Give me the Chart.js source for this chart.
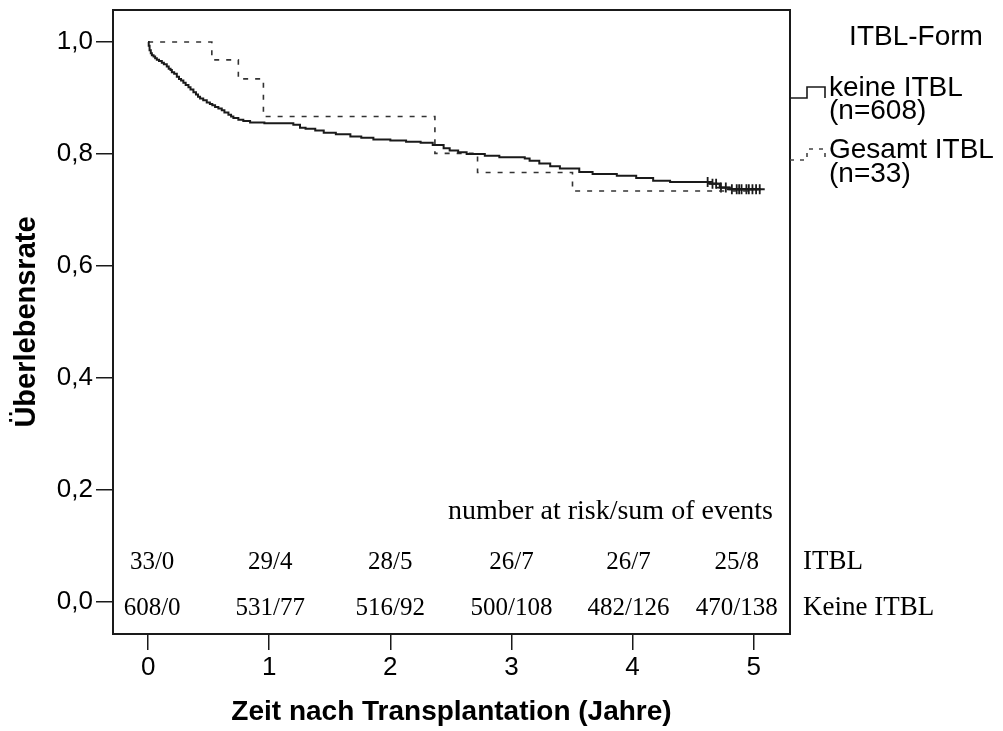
<!DOCTYPE html>
<html>
<head>
<meta charset="utf-8">
<script src="https://cdn.jsdelivr.net/npm/chart.js@4.4.1/dist/chart.umd.min.js"></script>
<style>
  html, body { margin: 0; padding: 0; background: #fff; }
  #wrap { width: 1003px; height: 731px; }
</style>
</head>
<body>
<div id="wrap"><canvas id="km" width="1003" height="731"></canvas></div>
<script>
// Axis ticks
const timeTicks = [0, 1, 2, 3, 4, 5];
const survivalTicks = [0, 0.2, 0.4, 0.6, 0.8, 1.0];

// Kaplan-Meier curve without ITBL (n=608): event times (years) and survival after each event
const keineTimes = [0, 0.005, 0.012, 0.022, 0.031, 0.045, 0.058, 0.072, 0.090, 0.113, 0.130, 0.154, 0.170, 0.185,
  0.196, 0.215, 0.237, 0.255, 0.272, 0.291, 0.310, 0.333, 0.350, 0.374, 0.395, 0.412, 0.429, 0.455, 0.484, 0.510,
  0.530, 0.553, 0.580, 0.608, 0.630, 0.663, 0.685, 0.704, 0.745, 0.786, 0.842, 0.960, 1.199, 1.254, 1.30, 1.38,
  1.45, 1.55, 1.67, 1.76, 1.86, 2.00, 2.13, 2.25, 2.35, 2.44, 2.49, 2.56, 2.63, 2.78, 2.90, 3.11, 3.15, 3.23,
  3.32, 3.40, 3.56, 3.67, 3.87, 4.03, 4.17, 4.31, 4.64, 4.72, 4.80, 5.05];
const keineSurvival = [1.000, 0.993, 0.985, 0.980, 0.976, 0.974, 0.971, 0.968, 0.966, 0.963, 0.960, 0.956, 0.952, 0.950,
  0.946, 0.943, 0.938, 0.934, 0.931, 0.927, 0.923, 0.919, 0.915, 0.910, 0.906, 0.902, 0.899, 0.896, 0.892, 0.889,
  0.887, 0.884, 0.881, 0.878, 0.874, 0.870, 0.867, 0.864, 0.861, 0.859, 0.856, 0.855, 0.852, 0.847, 0.845, 0.842,
  0.838, 0.835, 0.831, 0.829, 0.826, 0.824, 0.822, 0.820, 0.816, 0.810, 0.806, 0.803, 0.800, 0.797, 0.794, 0.792, 0.788, 0.783,
  0.778, 0.774, 0.768, 0.764, 0.761, 0.757, 0.752, 0.750, 0.747, 0.740, 0.737, 0.737];

// Censored observations of the group without ITBL (years)
const keineCensored = [4.62, 4.66, 4.69, 4.73, 4.77, 4.82, 4.86, 4.88, 4.90, 4.94, 4.96, 4.99, 5.02, 5.05];

// Kaplan-Meier curve with ITBL (n=33)
const itblTimes = [0, 0.526, 0.745, 0.952, 2.368, 2.72, 3.504, 5.0];
const itblSurvival = [1.000, 0.968, 0.934, 0.867, 0.801, 0.767, 0.734, 0.734];

// Number at risk / sum of events
const riskTimes = [0, 1, 2, 3, 4, 5];
const riskItbl = ['33/0', '29/4', '28/5', '26/7', '26/7', '25/8'];
const riskKeine = ['608/0', '531/77', '516/92', '500/108', '482/126', '470/138'];
const riskHeader = 'number at risk/sum of events';
const riskRowLabels = ['ITBL', 'Keine ITBL'];

// Legend texts
const legendTitle = 'ITBL-Form';
const legendKeine = ['keine ITBL', '(n=608)'];
const legendItbl = ['Gesamt ITBL', '(n=33)'];

const toPoints = (xs, ys) => xs.map((t, i) => ({ x: t, y: ys[i] }));
const survivalAt = (xs, ys, t) => {
  let s = ys[0];
  for (let i = 0; i < xs.length; i++) { if (xs[i] <= t) s = ys[i]; }
  return s;
};

const SANS = '"Liberation Sans", Arial, Helvetica, sans-serif';
const SERIF = '"Liberation Serif", "Times New Roman", Times, serif';
const INK = '#1a1a1a';

const overlay = {
  id: 'overlay',
  afterDraw(chart) {
    const { ctx, chartArea: a, scales: { x } } = chart;
    ctx.save();

    // plot frame
    ctx.strokeStyle = INK;
    ctx.lineWidth = 2;
    ctx.strokeRect(a.left, a.top, a.right - a.left, a.bottom - a.top);

    // risk table
    ctx.fillStyle = '#000';
    ctx.textBaseline = 'middle';
    ctx.font = '28px ' + SERIF;
    ctx.textAlign = 'right';
    ctx.fillText(riskHeader, a.right - 17, 512);
    ctx.font = '25px ' + SERIF;
    ctx.textAlign = 'center';
    const nudge = [4, 1, 0, 0, -4, -17];
    riskTimes.forEach((t, i) => {
      const px = x.getPixelForValue(t) + nudge[i];
      ctx.fillText(riskItbl[i], px, 562);
      ctx.fillText(riskKeine[i], px, 608);
    });
    ctx.font = '27px ' + SERIF;
    ctx.textAlign = 'left';
    ctx.fillText(riskRowLabels[0], a.right + 13, 562);
    ctx.fillText(riskRowLabels[1], a.right + 13, 608);

    // legend
    ctx.font = '28px ' + SANS;
    ctx.textAlign = 'center';
    ctx.fillText(legendTitle, 916, 37);
    ctx.textAlign = 'left';
    ctx.fillText(legendKeine[0], 829, 88);
    ctx.fillText(legendKeine[1], 829, 111);
    ctx.fillText(legendItbl[0], 829, 150);
    ctx.fillText(legendItbl[1], 829, 174);

    // legend samples: small step shapes
    ctx.lineWidth = 1.6;
    ctx.strokeStyle = INK;
    ctx.beginPath();
    ctx.moveTo(a.right, 98); ctx.lineTo(807, 98); ctx.lineTo(807, 87);
    ctx.lineTo(825, 87); ctx.lineTo(825, 98);
    ctx.stroke();
    ctx.strokeStyle = '#444';
    ctx.setLineDash([4, 6]);
    ctx.beginPath();
    ctx.moveTo(a.right, 160); ctx.lineTo(807, 160); ctx.lineTo(807, 149);
    ctx.lineTo(825, 149); ctx.lineTo(825, 160);
    ctx.stroke();
    ctx.restore();
  }
};

new Chart(document.getElementById('km'), {
  type: 'line',
  data: {
    datasets: [
      {
        label: 'keine ITBL (n=608)',
        data: toPoints(keineTimes, keineSurvival),
        stepped: 'before',
        borderColor: INK,
        borderWidth: 2,
        pointRadius: 0,
        fill: false
      },
      {
        label: 'Gesamt ITBL (n=33)',
        data: toPoints(itblTimes, itblSurvival),
        stepped: 'before',
        borderColor: '#333',
        borderWidth: 1.6,
        borderDash: [5, 7],
        pointRadius: 0,
        fill: false
      },
      {
        label: 'zensiert',
        data: keineCensored.map(t => ({ x: t, y: survivalAt(keineTimes, keineSurvival, t) })),
        showLine: false,
        pointStyle: 'cross',
        pointRadius: 5,
        pointBorderWidth: 1.8,
        pointBorderColor: INK,
        pointBackgroundColor: INK
      }
    ]
  },
  options: {
    responsive: false,
    animation: false,
    devicePixelRatio: 1,
    layout: { padding: { left: 0, top: 10, right: 213, bottom: 0 } },
    plugins: { legend: { display: false }, tooltip: { enabled: false } },
    scales: {
      x: {
        type: 'linear',
        min: -0.29,
        max: 5.30,
        afterBuildTicks: s => { s.ticks = timeTicks.map(v => ({ value: v })); },
        afterFit: s => { s.height = 97; s.paddingLeft = 0; s.paddingRight = 0; },
        ticks: { color: '#000', font: { family: SANS, size: 26 }, padding: 2, maxRotation: 0,
                 callback: v => String(v) },
        grid: { display: true, drawOnChartArea: false, drawTicks: true, tickLength: 16, color: INK, lineWidth: 1.5 },
        border: { display: true, color: INK, width: 2 },
        title: { display: true, text: 'Zeit nach Transplantation (Jahre)', color: '#000',
                 font: { family: SANS, size: 28, weight: 'bold' }, padding: { top: 0, bottom: 2 } }
      },
      y: {
        type: 'linear',
        min: -0.057,
        max: 1.057,
        afterBuildTicks: s => { s.ticks = survivalTicks.map(v => ({ value: v })); },
        afterFit: s => { s.width = 113; s.paddingTop = 0; s.paddingBottom = 0; },
        ticks: { color: '#000', font: { family: SANS, size: 26 }, padding: 3,
                 callback: v => v.toFixed(1).replace('.', ',') },
        grid: { display: true, drawOnChartArea: false, drawTicks: true, tickLength: 17, color: INK, lineWidth: 1.5 },
        border: { display: true, color: INK, width: 2 },
        title: { display: true, text: 'Überlebensrate', color: '#000',
                 font: { family: SANS, size: 29, weight: 'bold' }, padding: { top: 10, bottom: 0 } }
      }
    }
  },
  plugins: [overlay]
});
</script>
</body>
</html>
